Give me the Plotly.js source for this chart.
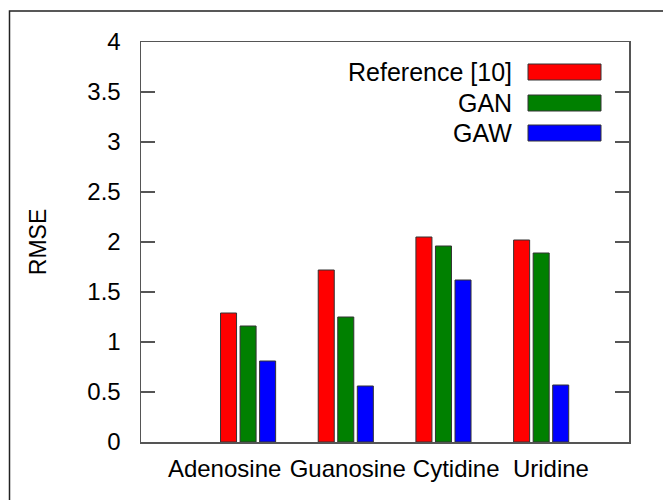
<!DOCTYPE html>
<html>
<head>
<meta charset="utf-8">
<script src="https://cdn.plot.ly/plotly-3.0.1.min.js"></script>
<style>html,body{margin:0;padding:0;background:#fff;}#chart{width:663px;height:500px;}</style>
</head>
<body>
<div id="chart"></div>
<script>
// ---- data ----
const categories = ["Adenosine", "Guanosine", "Cytidine", "Uridine"];
const seriesNames = ["Reference [10]", "GAN", "GAW"];
const refValues = [1.29, 1.72, 2.05, 2.02];
const ganValues = [1.16, 1.25, 1.96, 1.89];
const gawValues = [0.81, 0.56, 1.62, 0.57];
const yTickVals = [0, 0.5, 1, 1.5, 2, 2.5, 3, 3.5, 4];
const yTickText = ["0", "0.5", "1", "1.5", "2", "2.5", "3", "3.5", "4"];

// ---- styling / layout ----
const colors = ["#ff0000", "#008000", "#0000ff"];
const W = 663, H = 500;
const M = {l: 141, r: 34, t: 42, b: 58};
const PW = W - M.l - M.r, PH = H - M.t - M.b;
const px2x = p => (p - M.l) / PW;
const px2y = p => 1 - (p - M.t) / PH;

const idx = categories.map((c, i) => i);
// label and tick offsets relative to each group centre (in category units)
const labelOffsets = [-0.24, 0.02, 0.13, 0.10];
const tickOffsets = [-0.07, -0.10, 0.10, 0.10];
const labelPos = idx.map((v, i) => v + labelOffsets[i]);
const tickPos = idx.map((v, i) => v + tickOffsets[i]);

const allValues = [refValues, ganValues, gawValues];
const traces = allValues.map((vals, k) => ({
  type: "bar",
  x: idx,
  y: vals,
  name: seriesNames[k],
  marker: {color: colors[k], line: {color: "#333", width: 1}},
  showlegend: false,
  hoverinfo: "skip"
}));

const xr = [-1.096, 3.899];
const font = {family: "Liberation Sans, Arial, sans-serif", color: "#000"};

const shapes = [];
const annotations = [];
// outer frame (cropped on right/bottom)
shapes.push({type: "rect", xref: "paper", yref: "paper",
  x0: px2x(9.5), x1: px2x(680), y0: px2y(520), y1: px2y(11),
  line: {color: "#222", width: 1.5}, layer: "below"});
// manual legend (text left of swatch)
const legendY = [72, 103, 133];
seriesNames.forEach((n, k) => {
  annotations.push({xref: "paper", yref: "paper", x: px2x(514), y: px2y(legendY[k]),
    xanchor: "right", yanchor: "middle", text: n, showarrow: false,
    font: Object.assign({}, font, {size: 25})});
  shapes.push({type: "rect", xref: "paper", yref: "paper",
    x0: px2x(528), x1: px2x(601), y0: px2y(legendY[k] + 8), y1: px2y(legendY[k] - 8),
    fillcolor: colors[k], line: {color: "#333", width: 1}});
});

const axisLine = "#555";
const layout = {
  width: W, height: H,
  margin: M,
  paper_bgcolor: "#fff", plot_bgcolor: "#fff",
  barmode: "group", bargap: 0.4, bargroupgap: 0.18,
  font: font,
  xaxis: {
    range: xr, tickvals: labelPos, ticktext: categories, ticks: "",
    showgrid: false, zeroline: false, showline: true, mirror: true,
    linecolor: axisLine, linewidth: 1.5, tickfont: {size: 24, color: "#000"},
    ticklabelstandoff: 5, fixedrange: true
  },
  xaxis2: {
    overlaying: "x", anchor: "y", range: xr, tickvals: tickPos,
    ticks: "inside", ticklen: 14, tickwidth: 1.5, tickcolor: axisLine,
    showticklabels: false, mirror: "ticks", showline: false,
    showgrid: false, zeroline: false, layer: "below traces"
  },
  yaxis: {
    range: [0, 4], tickvals: yTickVals, ticktext: yTickText,
    ticks: "inside", ticklen: 14, tickwidth: 1.5, tickcolor: axisLine,
    showgrid: false, zeroline: false, showline: true, mirror: "ticks",
    linecolor: axisLine, linewidth: 1.5, tickfont: {size: 24, color: "#000"},
    ticklabelstandoff: 14,
    title: {text: "RMSE", font: {size: 23, color: "#000"}, standoff: 34},
    automargin: false, fixedrange: true
  },
  shapes: shapes,
  annotations: annotations
};

Plotly.newPlot("chart", traces, layout, {staticPlot: true, displayModeBar: false});
</script>
</body>
</html>
